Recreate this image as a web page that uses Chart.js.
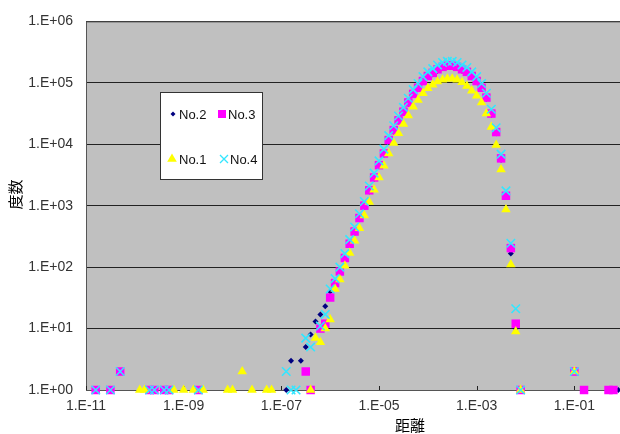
<!DOCTYPE html>
<html lang="ja">
<head>
<meta charset="utf-8">
<title>距離と度数</title>
<script src="https://cdn.jsdelivr.net/npm/chart.js@4.4.1/dist/chart.umd.min.js"></script>
<style>
  html, body { margin: 0; padding: 0; background: #fff; overflow: hidden; }
  #wrap { position: relative; width: 680px; height: 434px; }
</style>
</head>
<body>
<div id="wrap"><canvas id="chart"></canvas></div>
<script>
// --- Achsen ---
const X_TICKS = [1e-11, 1e-9, 1e-7, 1e-5, 1e-3, 1e-1];
const Y_TICKS = [1, 10, 100, 1000, 10000, 100000, 1000000];
const X_TITLE = '距離';
const Y_TITLE = '度数';

// Klassen (0.1 Dekaden) der Hauptkurve
const CURVE_X = [
  3.16e-7, 3.98e-7, 5.01e-7, 6.31e-7, 7.94e-7,
  1.00e-6, 1.26e-6, 1.58e-6, 2.00e-6, 2.51e-6, 3.16e-6, 3.98e-6, 5.01e-6, 6.31e-6, 7.94e-6,
  1.00e-5, 1.26e-5, 1.58e-5, 2.00e-5, 2.51e-5, 3.16e-5, 3.98e-5, 5.01e-5, 6.31e-5, 7.94e-5,
  1.00e-4, 1.26e-4, 1.58e-4, 2.00e-4, 2.51e-4, 3.16e-4, 3.98e-4, 5.01e-4, 6.31e-4, 7.94e-4,
  1.00e-3, 1.26e-3, 1.58e-3, 2.00e-3, 2.51e-3, 3.16e-3, 3.98e-3, 5.01e-3, 6.31e-3, 7.94e-3
];

const NO2_CURVE = [
  5, 8, 13, 17, 23,
  40, 52, 80, 135, 225, 360, 600, 950, 1700, 2750,
  4370, 6760, 11000, 16200, 23400, 32400, 45700, 63100, 79400, 102000,
  123000, 138000, 158000, 174000, 182000, 182000, 174000, 158000, 145000, 123000,
  102000, 79400, 55000, 30200, 15100, 5620, 1380, 166, 10, 1
];
const NO3_CURVE = [
  2, 1, null, 10, 12,
  32, 55, 85, 141, 240, 380, 630, 1000, 1780, 2880,
  4570, 7080, 11700, 17000, 24500, 33900, 47900, 66100, 83200, 107000,
  129000, 145000, 166000, 182000, 190000, 190000, 182000, 166000, 151000, 129000,
  107000, 83200, 57500, 31600, 15800, 5890, 1450, 204, 12, 1
];
const NO1_CURVE = [
  null, 1, 7, 6, 10,
  14, 44, 63, 105, 170, 270, 430, 690, 1150, 1820,
  2880, 4470, 7080, 10500, 15100, 21400, 29500, 40700, 52500, 67600,
  81300, 93300, 105000, 112000, 117000, 117000, 112000, 102000, 89100, 74100,
  61700, 47900, 31600, 19100, 9770, 3890, 871, 110, 9, 1
];
const NO4_CURVE = [
  7, 5, null, 11, 17,
  44, 65, 100, 166, 280, 450, 740, 1170, 2090, 3390,
  5370, 8320, 13800, 20000, 28800, 39800, 56200, 77600, 97700, 126000,
  151000, 170000, 195000, 214000, 224000, 224000, 214000, 195000, 178000, 151000,
  126000, 97700, 67600, 37200, 18600, 6920, 1740, 245, 21, 1
];

// Einzelwerte außerhalb der Hauptkurve
const NO2_STRAY_X = [1.26e-7, 1.58e-7, 2.51e-7, 1.00e-1, 7.94e-1];
const NO2_STRAY_Y = [1, 3, 3, 2, 1];
const NO3_STRAY_X = [1.58e-11, 3.16e-11, 5.01e-11, 2.00e-10, 2.51e-10, 3.98e-10, 5.01e-10, 2.00e-9, 1.00e-1, 1.58e-1, 5.01e-1, 6.31e-1];
const NO3_STRAY_Y = [1, 1, 2, 1, 1, 1, 1, 1, 2, 1, 1, 1];
const NO1_STRAY_X = [1.26e-10, 1.58e-10, 6.31e-10, 1.00e-9, 1.58e-9, 2.51e-9, 7.94e-9, 1.00e-8, 1.58e-8, 2.51e-8, 5.01e-8, 6.31e-8, 1.00e-1];
const NO1_STRAY_Y = [1, 1, 1, 1, 1, 1, 1, 1, 2, 1, 1, 1, 2];
const NO4_STRAY_X = [1.58e-11, 3.16e-11, 5.01e-11, 2.00e-10, 2.51e-10, 3.98e-10, 5.01e-10, 2.00e-9, 1.26e-7, 1.58e-7, 2.00e-7, 1.00e-1];
const NO4_STRAY_Y = [1, 1, 2, 1, 1, 1, 1, 1, 2, 1, 1, 2];

const toPoints = (xs, ys) => xs.map((x, i) => ({ x, y: ys[i] })).filter(p => p.y != null);

// Darstellung (Reihenfolge wie Legende; order: kleiner = weiter oben)
const SERIES = [
  { label: 'No.2', curve: NO2_CURVE, sx: NO2_STRAY_X, sy: NO2_STRAY_Y, shape: 'rectRot',  r: 3,   color: '#000080', order: 3 },
  { label: 'No.3', curve: NO3_CURVE, sx: NO3_STRAY_X, sy: NO3_STRAY_Y, shape: 'rect',     r: 6,   color: '#ff00ff', order: 2 },
  { label: 'No.1', curve: NO1_CURVE, sx: NO1_STRAY_X, sy: NO1_STRAY_Y, shape: 'triangle', r: 5.5, color: '#ffff00', order: 1 },
  { label: 'No.4', curve: NO4_CURVE, sx: NO4_STRAY_X, sy: NO4_STRAY_Y, shape: 'crossRot', r: 6,   color: '#33e6ff', order: 0 },
];

const TICK_FONT = { family: "'Liberation Sans', Arial, sans-serif", size: 14 };
const TITLE_FONT = "15px 'Noto Sans CJK JP', sans-serif";

const sciLabel = v => {
  const e = Math.round(Math.log10(v));
  return '1.E' + (e < 0 ? '-' : '+') + String(Math.abs(e)).padStart(2, '0');
};

// grauer Hintergrund + Rahmen der Zeichenfläche
const plotArea = {
  id: 'plotArea',
  beforeDraw(chart) {
    const { ctx, chartArea: a } = chart;
    ctx.save();
    ctx.fillStyle = '#c0c0c0';
    ctx.fillRect(a.left, a.top, a.right - a.left, a.bottom - a.top);
    ctx.restore();
  },
  beforeDatasetsDraw(chart) {
    const { ctx, chartArea: a, scales } = chart;
    ctx.save();
    ctx.strokeStyle = '#555';
    ctx.lineWidth = 1;
    ctx.strokeRect(a.left + 0.5, a.top + 0.5, a.right - a.left, a.bottom - a.top);
    // kleine Teilstriche nach innen
    ctx.strokeStyle = '#222';
    X_TICKS.forEach(v => {
      const x = Math.round(scales.x.getPixelForValue(v)) + 0.5;
      ctx.beginPath();
      ctx.moveTo(x, a.bottom);
      ctx.lineTo(x, a.bottom - 4);
      ctx.stroke();
    });
    ctx.restore();
  }
};

// Achsentitel wie im Original leicht versetzt
const axisTitles = {
  id: 'axisTitles',
  afterDraw(chart) {
    const { ctx, chartArea: a } = chart;
    ctx.save();
    ctx.fillStyle = '#000';
    ctx.font = TITLE_FONT;
    ctx.textAlign = 'center';
    ctx.textBaseline = 'middle';
    ctx.fillText(X_TITLE, a.left + 324, a.bottom + 35);
    ctx.translate(15, a.top + 173);
    ctx.rotate(-Math.PI / 2);
    ctx.fillText(Y_TITLE, 0, 0);
    ctx.restore();
  }
};

function drawMarker(ctx, s, x, y, r) {
  ctx.save();
  ctx.fillStyle = s.color;
  ctx.strokeStyle = s.color;
  ctx.beginPath();
  if (s.shape === 'rectRot') {
    ctx.moveTo(x, y - r); ctx.lineTo(x + r, y); ctx.lineTo(x, y + r); ctx.lineTo(x - r, y);
    ctx.closePath(); ctx.fill();
  } else if (s.shape === 'rect') {
    ctx.rect(x - r, y - r, 2 * r, 2 * r); ctx.fill();
  } else if (s.shape === 'triangle') {
    ctx.moveTo(x, y - r); ctx.lineTo(x + r * 0.87, y + r * 0.5); ctx.lineTo(x - r * 0.87, y + r * 0.5);
    ctx.closePath(); ctx.fill();
  } else {
    ctx.lineWidth = 1.3;
    ctx.moveTo(x - r, y - r); ctx.lineTo(x + r, y + r);
    ctx.moveTo(x + r, y - r); ctx.lineTo(x - r, y + r);
    ctx.stroke();
  }
  ctx.restore();
}

// Legende als Kasten im Diagramm (2 x 2)
const legendBox = {
  id: 'legendBox',
  afterDatasetsDraw(chart) {
    const { ctx } = chart;
    const box = { x: 160.5, y: 92.5, w: 102, h: 87 };
    ctx.save();
    ctx.fillStyle = '#fff';
    ctx.fillRect(box.x, box.y, box.w, box.h);
    ctx.strokeStyle = '#333';
    ctx.lineWidth = 1;
    ctx.strokeRect(box.x, box.y, box.w, box.h);
    const slots = [
      { s: SERIES[0], mx: 173, tx: 179, y: 114, r: 2.5 },
      { s: SERIES[1], mx: 222, tx: 228, y: 114, r: 4 },
      { s: SERIES[2], mx: 172, tx: 179, y: 159, r: 5.5 },
      { s: SERIES[3], mx: 224, tx: 230, y: 159, r: 4 },
    ];
    ctx.font = "13px 'Liberation Sans', Arial, sans-serif";
    ctx.textBaseline = 'middle';
    ctx.textAlign = 'left';
    slots.forEach(({ s, mx, tx, y, r }) => {
      drawMarker(ctx, s, mx, y, r);
      ctx.fillStyle = '#111';
      ctx.fillText(s.label, tx, y + 1);
    });
    ctx.restore();
  }
};

new Chart(document.getElementById('chart'), {
  type: 'scatter',
  plugins: [plotArea, legendBox, axisTitles],
  data: {
    datasets: SERIES.map(s => ({
      label: s.label,
      data: toPoints(CURVE_X, s.curve).concat(toPoints(s.sx, s.sy)),
      order: s.order,
      clip: false,
      pointStyle: s.shape,
      pointRadius: s.r,
      pointHoverRadius: s.r,
      backgroundColor: s.color,
      borderColor: s.color,
      pointBorderWidth: s.shape === 'crossRot' ? 1.6 : 0,
    }))
  },
  options: {
    responsive: true,
    maintainAspectRatio: false,
    animation: false,
    events: [],
    layout: { padding: { top: 14, right: 8, left: 0, bottom: 0 } },
    scales: {
      x: {
        type: 'logarithmic',
        min: 1e-11,
        max: 10,
        afterBuildTicks: s => { s.ticks = X_TICKS.map(v => ({ value: v })); },
        afterFit: s => { s.height = 44; },
        grid: { display: false, drawTicks: false },
        border: { display: false },
        ticks: { callback: v => sciLabel(v), font: TICK_FONT, color: '#333', padding: 8, maxRotation: 0, autoSkip: false }
      },
      y: {
        type: 'logarithmic',
        min: 1,
        max: 1e6,
        afterBuildTicks: s => { s.ticks = Y_TICKS.map(v => ({ value: v })); },
        afterFit: s => { s.width = 86; },
        grid: { color: '#222', drawTicks: false },
        border: { display: false },
        ticks: { callback: v => sciLabel(v), font: TICK_FONT, color: '#333', padding: 13, autoSkip: false }
      }
    },
    plugins: {
      legend: { display: false },
      tooltip: { enabled: false }
    }
  }
});
</script>
</body>
</html>
